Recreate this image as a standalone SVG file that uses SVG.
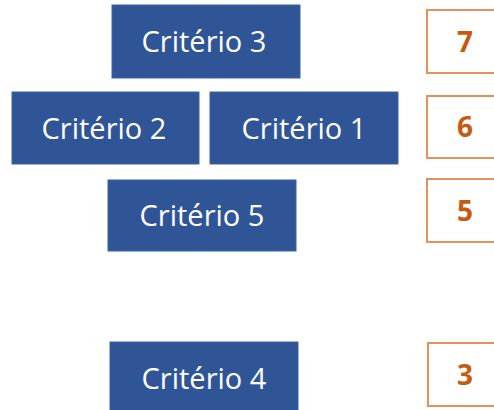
<svg xmlns="http://www.w3.org/2000/svg" width="494" height="410" viewBox="0 0 494 410">
  <style>
    .crit rect { fill: #2F5597; stroke: #3A62A6; stroke-width: 1; }
    .crit text { fill: #FFFFFF; font-family: "Open Sans", "Liberation Sans", sans-serif; font-size: 29px; text-anchor: middle; }
    .score rect { fill: #FFFFFF; stroke: #E4925A; stroke-width: 2; }
    .score text { fill: #C55A11; font-family: "Open Sans", "Liberation Sans", sans-serif; font-size: 28px; font-weight: bold; text-anchor: middle; }
  </style>
  <rect width="494" height="410" fill="#FFFFFF"/>

  <!-- criteria -->
  <g id="criterio3" class="crit">
    <rect x="112" y="5" width="188" height="73"/>
    <text x="204" y="52">Critério 3</text>
  </g>
  <g id="criterio2" class="crit">
    <rect x="12" y="92" width="187" height="72"/>
    <text x="104" y="139">Critério 2</text>
  </g>
  <g id="criterio1" class="crit">
    <rect x="210" y="92" width="188" height="72"/>
    <text x="304" y="139">Critério 1</text>
  </g>
  <g id="criterio5" class="crit">
    <rect x="108" y="180" width="188" height="71"/>
    <text x="202" y="226">Critério 5</text>
  </g>
  <g id="criterio4" class="crit">
    <rect x="110" y="342" width="188" height="72"/>
    <text x="204" y="389">Critério 4</text>
  </g>

  <!-- scores -->
  <g id="score7" class="score">
    <rect x="427" y="10" width="80" height="63"/>
    <text x="465" y="52">7</text>
  </g>
  <g id="score6" class="score">
    <rect x="427" y="96" width="80" height="62"/>
    <text x="465" y="137">6</text>
  </g>
  <g id="score5" class="score">
    <rect x="427" y="179" width="80" height="63"/>
    <text x="465" y="221">5</text>
  </g>
  <g id="score3" class="score">
    <rect x="428" y="343" width="80" height="63"/>
    <text x="465" y="385">3</text>
  </g>

  <g id="connectors"></g>
</svg>
